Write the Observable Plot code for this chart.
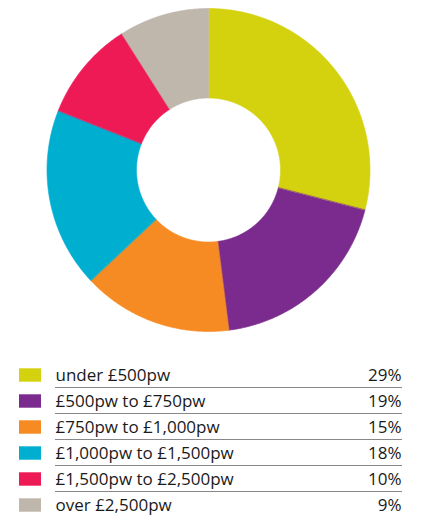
<!DOCTYPE html>
<html>
<head>
<meta charset="utf-8">
<script src="https://cdn.jsdelivr.net/npm/d3@7"></script>
<script src="https://cdn.jsdelivr.net/npm/@observablehq/plot@0.6"></script>
<style>
  html, body { margin: 0; padding: 0; background: #fff; }
  svg { display: block; }
  #chart { width: 421px; }
</style>
</head>
<body>
<div id="chart"></div>
<script>
const categories = ["under £500pw", "£500pw to £750pw", "£750pw to £1,000pw", "£1,000pw to £1,500pw", "£1,500pw to £2,500pw", "over £2,500pw"];
const shares = [29, 19, 15, 18, 10, 9];
const percentLabels = ["29%", "19%", "15%", "18%", "10%", "9%"];
const colors = ["#d4d20f", "#7b2a8e", "#f68b24", "#00aed0", "#ee1a55", "#bfb6ac"];

const innerRatio = 72 / 161.5;

// Build ring-segment outlines from the shares (angles from d3.pie)
const pie = d3.pie().sort(null).value(d => d.share)(categories.map((c, i) => ({category: c, share: shares[i]})));
const ring = [];
pie.forEach(s => {
  const n = Math.max(2, Math.ceil((s.endAngle - s.startAngle) / (Math.PI / 360)) + 1);
  for (let k = 0; k < n; k++) {
    const a = s.startAngle + (s.endAngle - s.startAngle) * k / (n - 1);
    ring.push({
      category: s.data.category,
      xi: innerRatio * Math.sin(a), yi: innerRatio * Math.cos(a),
      xo: Math.sin(a), yo: Math.cos(a)
    });
  }
});

const cx = 208.5, cy = 170, R = 161.5;
const donut = Plot.plot({
  width: 421,
  height: 345,
  margin: 0,
  x: {domain: [-1, 1], range: [cx - R, cx + R], axis: null},
  y: {domain: [-1, 1], range: [cy + R, cy - R], axis: null},
  color: {domain: categories, range: colors},
  marks: [
    Plot.area(ring, {
      x1: "xi", y1: "yi", x2: "xo", y2: "yo",
      z: "category", fill: "category", stroke: "category", strokeWidth: 0.6,
      curve: "linear"
    })
  ]
});

const legendData = categories.map((c, i) => ({category: c, pct: percentLabels[i], last: i === categories.length - 1}));
const step = 26.6;
const legend = Plot.plot({
  width: 421,
  height: 172,
  margin: 0,
  style: {fontFamily: "'Open Sans', 'Noto Sans', sans-serif", overflow: "visible"},
  x: {domain: [0, 421], range: [0, 421], axis: null},
  y: {type: "band", domain: categories, range: [28 - step / 2, 28 + step * 5.5], padding: 0, axis: null},
  color: {domain: categories, range: colors},
  marks: [
    Plot.barX(legendData, {x1: () => 19, x2: () => 41, y: "category", fill: "category", insetTop: 6.3, insetBottom: 6.3}),
    Plot.barX(legendData.filter(d => !d.last), {x1: () => 55, x2: () => 402, y: "category", fill: "#555", insetTop: step - 1.3, insetBottom: 0}),
    Plot.text(legendData, {x: () => 55, y: "category", text: "category", textAnchor: "start", fontSize: 17, fill: "#1a1a1a"}),
    Plot.text(legendData, {x: () => 401, y: "category", text: "pct", textAnchor: "end", fontSize: 17, fill: "#1a1a1a"})
  ]
});

document.getElementById("chart").append(donut, legend);
</script>
</body>
</html>
